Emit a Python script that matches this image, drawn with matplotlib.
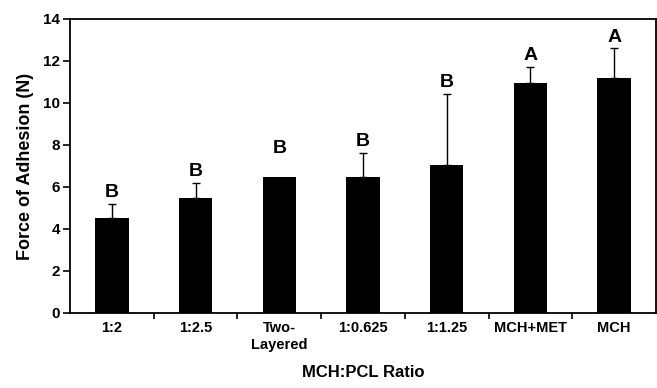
import matplotlib
matplotlib.use("Agg")
import matplotlib.pyplot as plt
import numpy as np

categories = ["1:2", "1:2.5", "Two-\nLayered", "1:0.625", "1:1.25", "MCH+MET", "MCH"]
force_mean = [4.52, 5.48, 6.48, 6.48, 7.05, 10.95, 11.2]
force_err = [0.67, 0.72, 0.0, 1.14, 3.38, 0.76, 1.4]
groups = ["B", "B", "B", "B", "B", "A", "A"]

plt.rcParams["font.family"] = ["Liberation Sans", "DejaVu Sans"]
plt.rcParams["font.weight"] = "bold"

fig = plt.figure(figsize=(6.57, 3.88), dpi=100)
ax = fig.add_axes([70 / 657, 1 - 313 / 388, 586 / 657, 294 / 388])

x = np.arange(len(categories))
ax.bar(x, force_mean, width=0.4, color="black", zorder=2)

# upper error bars only; skip groups with no spread
has_err = np.array(force_err) > 0
ax.errorbar(x[has_err], np.array(force_mean)[has_err],
            yerr=[np.zeros(has_err.sum()), np.array(force_err)[has_err]], fmt="none",
            ecolor="black", elinewidth=1.0, capsize=3, capthick=1.0, zorder=1)

for xi, m, e, g in zip(x, force_mean, force_err, groups):
    ax.annotate(g, (xi, m + e), xytext=(0, 2 if e > 0 else 14), textcoords="offset points",
                ha="center", va="bottom", fontsize=14, fontweight="bold")

ax.set_xlim(-0.5, len(categories) - 0.5)
ax.set_ylim(0, 14)
ax.set_yticks(np.arange(0, 15, 2))
ax.set_xticks(x)
ax.set_xticklabels(categories, fontsize=10.5, fontweight="bold", linespacing=1.2)
ax.set_xticks(np.arange(0.5, len(categories) - 0.5, 1), minor=True)
ax.tick_params(axis="x", which="major", length=0, pad=6)
ax.tick_params(axis="x", which="minor", length=4, width=1.2, direction="out")
ax.tick_params(axis="y", length=5, width=1.2, direction="out", labelsize=11, pad=2)
for lbl in ax.get_yticklabels():
    lbl.set_fontweight("bold")

for sp in ax.spines.values():
    sp.set_linewidth(1.3)

ax.set_ylabel("Force of Adhesion (N)", fontsize=13, fontweight="bold", labelpad=7)
ax.set_xlabel("MCH:PCL Ratio", fontsize=12, fontweight="bold", labelpad=10)

fig.savefig("out.png", dpi=100)
plt.close(fig)
